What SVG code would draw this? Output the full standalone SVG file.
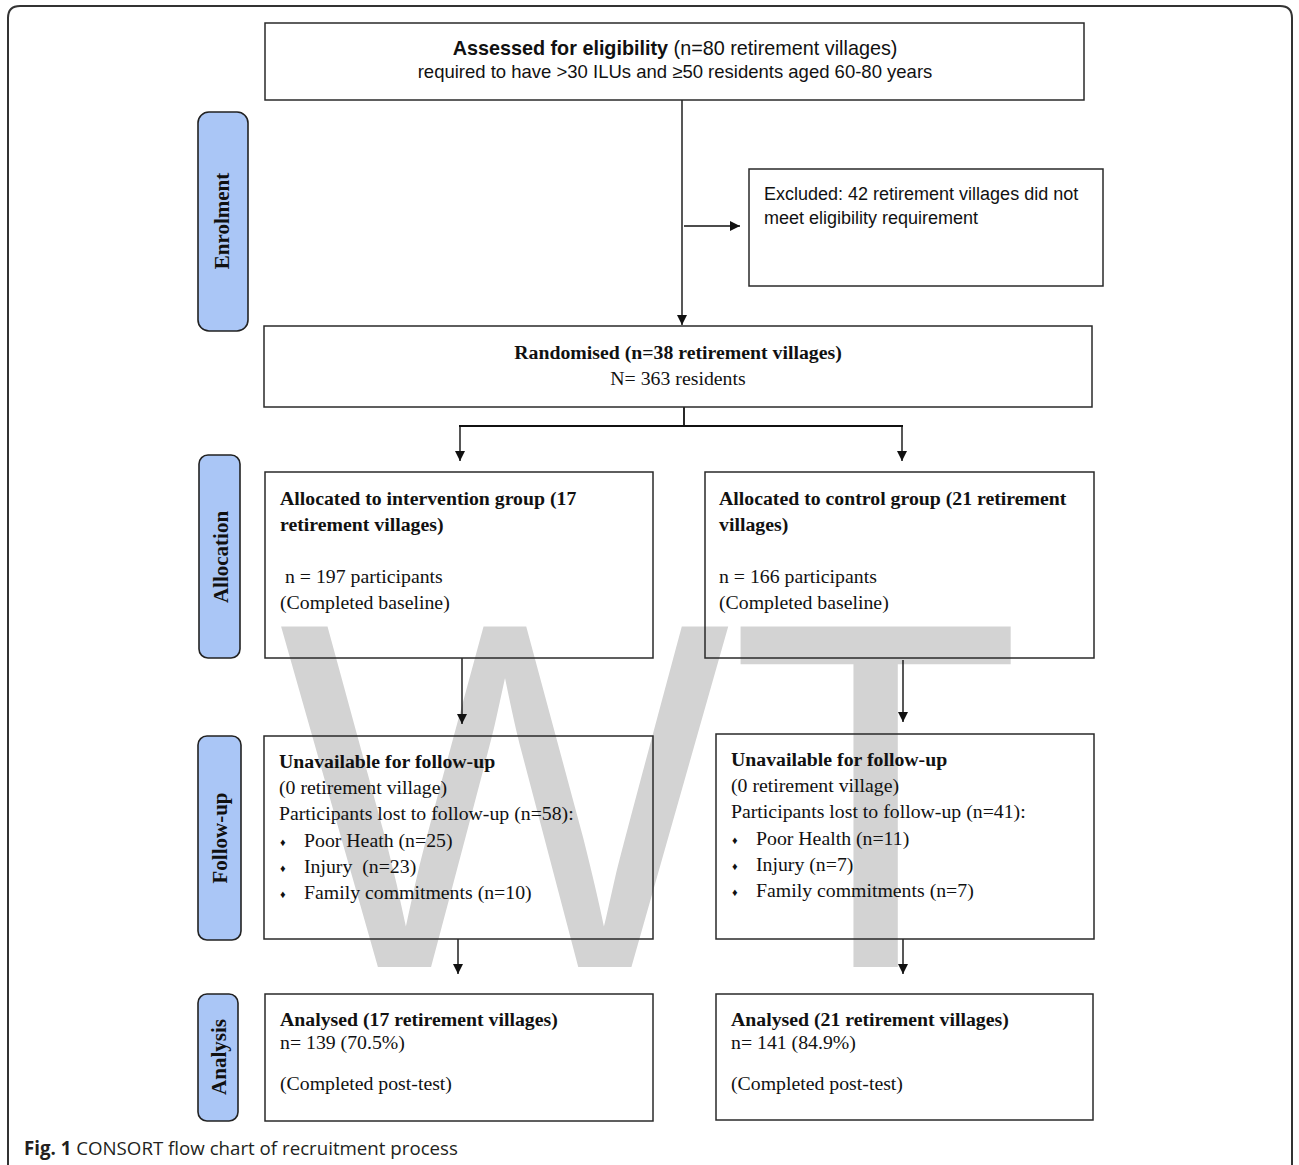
<svg xmlns="http://www.w3.org/2000/svg" width="1299" height="1165" viewBox="0 0 1299 1165">
<style>
.box{fill:none;stroke:#2a2a2a;stroke-width:1.5}
.lab{fill:#aac6f6;stroke:#222;stroke-width:1.6}
.ltx{font-family:"Liberation Serif",serif;font-weight:bold;font-size:21px;fill:#111;text-anchor:middle}
.sf{font-family:"Liberation Serif",serif;font-size:19.8px;fill:#111}
.b{font-weight:bold}
.ss{font-family:"Liberation Sans",Arial,sans-serif;fill:#111}
.bul{font-family:"Liberation Serif",serif;font-size:11px;fill:#111}
.con{stroke:#111;stroke-width:1.4;fill:none}
</style>
<defs>
<marker id="ah" viewBox="0 0 10 10" refX="10" refY="5" markerWidth="10" markerHeight="10" markerUnits="userSpaceOnUse" orient="auto">
<path d="M0,0 L10,5 L0,10 z" fill="#111"/>
</marker>
</defs>
<rect width="1299" height="1165" fill="#fff"/>
<path d="M8,1175 L8,18 Q8,6 20,6 L1280,6 Q1292,6 1292,18 L1292,1175" fill="none" stroke="#333" stroke-width="2"/>
<text transform="translate(279,967) scale(0.965,1)" font-family="Liberation Sans,Arial,sans-serif" font-size="495" fill="#d3d3d3">WT</text>

<g id="connectors">
<line class="con" x1="682" y1="100" x2="682" y2="325" marker-end="url(#ah)"/>
<line class="con" x1="684" y1="226" x2="740" y2="226" marker-end="url(#ah)"/>
<polyline class="con" points="684,407 684,426" style="stroke-width:1.8"/>
<line class="con" x1="459" y1="426" x2="903" y2="426" style="stroke-width:2.2"/>
<line class="con" x1="460" y1="426" x2="460" y2="461" marker-end="url(#ah)"/>
<line class="con" x1="902" y1="426" x2="902" y2="461" marker-end="url(#ah)"/>
<line class="con" x1="462" y1="658" x2="462" y2="724" marker-end="url(#ah)"/>
<line class="con" x1="903" y1="660" x2="903" y2="722" marker-end="url(#ah)"/>
<line class="con" x1="458" y1="939" x2="458" y2="974" marker-end="url(#ah)"/>
<line class="con" x1="903" y1="939" x2="903" y2="974" marker-end="url(#ah)"/>
</g>

<g id="stage-enrolment">
<rect class="lab" x="198" y="112" width="50" height="219" rx="11"/>
<text class="ltx" transform="translate(229,221) rotate(-90)">Enrolment</text>
</g>
<g id="stage-allocation">
<rect class="lab" x="199" y="455" width="41" height="203" rx="9"/>
<text class="ltx" transform="translate(228,557) rotate(-90)">Allocation</text>
</g>
<g id="stage-followup">
<rect class="lab" x="198" y="736" width="43" height="204" rx="9"/>
<text class="ltx" transform="translate(227,838) rotate(-90)">Follow-up</text>
</g>
<g id="stage-analysis">
<rect class="lab" x="198" y="994" width="40" height="127" rx="9"/>
<text class="ltx" transform="translate(226,1057) rotate(-90)">Analysis</text>
</g>

<g id="assessed">
<rect class="box" x="265" y="23" width="819" height="77"/>
<text class="ss" x="675" y="55" font-size="19.8" text-anchor="middle"><tspan font-weight="bold">Assessed for eligibility</tspan> (n=80 retirement villages)</text>
<text class="ss" x="675" y="78" font-size="18.5" text-anchor="middle">required to have &gt;30 ILUs and ≥50 residents aged 60-80 years</text>
</g>

<g id="excluded">
<rect class="box" x="749" y="169" width="354" height="117"/>
<text class="ss" x="764" y="200" font-size="18">Excluded: 42 retirement villages did not</text>
<text class="ss" x="764" y="224" font-size="18">meet eligibility requirement</text>
</g>

<g id="randomised">
<rect class="box" x="264" y="326" width="828" height="81"/>
<text class="sf b" x="678" y="359" text-anchor="middle">Randomised (n=38 retirement villages)</text>
<text class="sf" x="678" y="385" text-anchor="middle">N= 363 residents</text>
</g>

<g id="alloc-intervention">
<rect class="box" x="265" y="472" width="388" height="186"/>
<text class="sf b" x="280" y="505">Allocated to intervention group (17</text>
<text class="sf b" x="280" y="531">retirement villages)</text>
<text class="sf" x="280" y="583" xml:space="preserve"> n = 197 participants</text>
<text class="sf" x="280" y="609">(Completed baseline)</text>
</g>

<g id="alloc-control">
<rect class="box" x="705" y="472" width="389" height="186"/>
<text class="sf b" x="719" y="505">Allocated to control group (21 retirement</text>
<text class="sf b" x="719" y="531">villages)</text>
<text class="sf" x="719" y="583">n = 166 participants</text>
<text class="sf" x="719" y="609">(Completed baseline)</text>
</g>

<g id="followup-intervention">
<rect class="box" x="264" y="736" width="389" height="203"/>
<text class="sf b" x="279" y="768">Unavailable for follow-up</text>
<text class="sf" x="279" y="794">(0 retirement village)</text>
<text class="sf" x="279" y="820">Participants lost to follow-up (n=58):</text>
<text class="bul" x="280" y="846">♦</text>
<text class="sf" x="304" y="847">Poor Heath (n=25)</text>
<text class="bul" x="280" y="872">♦</text>
<text class="sf" x="304" y="873" xml:space="preserve">Injury  (n=23)</text>
<text class="bul" x="280" y="898">♦</text>
<text class="sf" x="304" y="899">Family commitments (n=10)</text>
</g>

<g id="followup-control">
<rect class="box" x="716" y="734" width="378" height="205"/>
<text class="sf b" x="731" y="766">Unavailable for follow-up</text>
<text class="sf" x="731" y="792">(0 retirement village)</text>
<text class="sf" x="731" y="818">Participants lost to follow-up (n=41):</text>
<text class="bul" x="732" y="844">♦</text>
<text class="sf" x="756" y="845">Poor Health (n=11)</text>
<text class="bul" x="732" y="870">♦</text>
<text class="sf" x="756" y="871">Injury (n=7)</text>
<text class="bul" x="732" y="896">♦</text>
<text class="sf" x="756" y="897">Family commitments (n=7)</text>
</g>

<g id="analysed-intervention">
<rect class="box" x="265" y="994" width="388" height="127"/>
<text class="sf b" x="280" y="1026">Analysed (17 retirement villages)</text>
<text class="sf" x="280" y="1049">n= 139 (70.5%)</text>
<text class="sf" x="280" y="1090">(Completed post-test)</text>
</g>

<g id="analysed-control">
<rect class="box" x="716" y="994" width="377" height="126"/>
<text class="sf b" x="731" y="1026">Analysed (21 retirement villages)</text>
<text class="sf" x="731" y="1049">n= 141 (84.9%)</text>
<text class="sf" x="731" y="1090">(Completed post-test)</text>
</g>

<text x="24" y="1155" font-family="Open Sans,Liberation Sans,sans-serif" font-size="18.7" fill="#231f20"><tspan font-weight="bold">Fig. 1</tspan> CONSORT flow chart of recruitment process</text>
</svg>
